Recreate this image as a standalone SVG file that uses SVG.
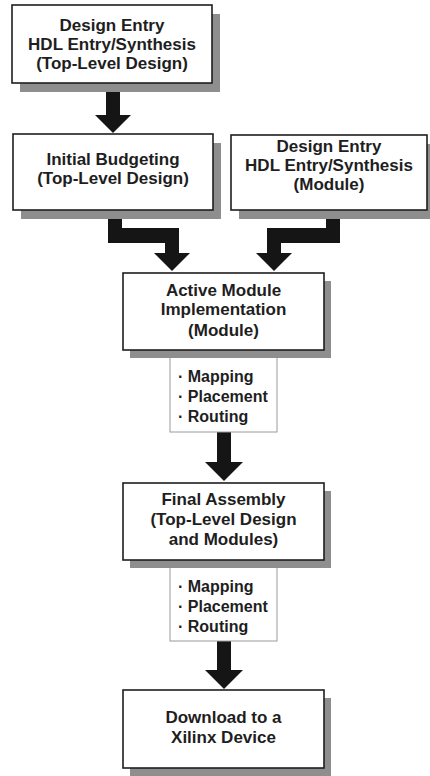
<svg xmlns="http://www.w3.org/2000/svg" width="430" height="776" viewBox="0 0 430 776">
  <style>
    .shadow { fill: #8e8e8e; }
    .box { fill: #ffffff; stroke: #1e1e1e; stroke-width: 1.6; }
    .sub { fill: #ffffff; stroke: #9a9a9a; stroke-width: 1; }
    .arrow { fill: #151515; }
    .t { font-family: "Liberation Sans", Arial, sans-serif; font-weight: bold; font-size: 17px; fill: #1e1e1e; text-anchor: middle; }
    .b { font-family: "Liberation Sans", Arial, sans-serif; font-weight: bold; font-size: 16px; fill: #1e1e1e; }
  </style>
  <rect width="430" height="776" fill="#ffffff"/>

  <!-- connectors, drawn first so their stubs tuck under the boxes -->
  <g id="connectors">
    <rect class="arrow" x="106" y="83" width="14" height="33"/>
    <polygon class="arrow" points="95,115 131,115 113,133"/>
    <polygon class="arrow" points="108,205 122,205 122,228 179,228 179,253 190,253 172,271 154,253 165,253 165,243 108,243"/>
    <polygon class="arrow" points="326,205 340,205 340,243 281,243 281,253 292,253 274,271 256,253 267,253 267,228 326,228"/>
    <rect class="arrow" x="217" y="430" width="14" height="33"/>
    <polygon class="arrow" points="205,462 243,462 224,481"/>
    <rect class="arrow" x="217" y="640" width="14" height="33"/>
    <polygon class="arrow" points="205,670 243,670 224,689"/>
  </g>

  <g id="design-entry-top">
    <rect class="shadow" x="20" y="14" width="200" height="78"/>
    <rect class="box" x="12" y="5" width="200" height="78"/>
    <text class="t" x="112" y="31">Design Entry</text>
    <text class="t" x="112" y="50">HDL Entry/Synthesis</text>
    <text class="t" x="112" y="69">(Top-Level Design)</text>
  </g>

  <g id="initial-budgeting">
    <rect class="shadow" x="21" y="143" width="200" height="76"/>
    <rect class="box" x="13" y="134" width="200" height="76"/>
    <text class="t" x="113" y="165">Initial Budgeting</text>
    <text class="t" x="113" y="184">(Top-Level Design)</text>
  </g>

  <g id="design-entry-module">
    <rect class="shadow" x="239" y="144" width="197" height="75"/>
    <rect class="box" x="231" y="135" width="196" height="75"/>
    <text class="t" x="329" y="152">Design Entry</text>
    <text class="t" x="329" y="171">HDL Entry/Synthesis</text>
    <text class="t" x="329" y="190">(Module)</text>
  </g>

  <g id="active-module">
    <rect class="sub" x="170" y="350" width="107" height="82"/>
    <text class="b" x="178" y="382">· Mapping</text>
    <text class="b" x="178" y="402">· Placement</text>
    <text class="b" x="178" y="422">· Routing</text>
    <rect class="shadow" x="130" y="281" width="201" height="77"/>
    <rect class="box" x="123" y="273" width="201" height="77"/>
    <text class="t" x="223.5" y="296">Active Module</text>
    <text class="t" x="223.5" y="315">Implementation</text>
    <text class="t" x="223.5" y="336">(Module)</text>
  </g>

  <g id="final-assembly">
    <rect class="sub" x="170" y="560" width="107" height="81"/>
    <text class="b" x="178" y="592">· Mapping</text>
    <text class="b" x="178" y="612">· Placement</text>
    <text class="b" x="178" y="632">· Routing</text>
    <rect class="shadow" x="130" y="491" width="201" height="77"/>
    <rect class="box" x="123" y="483" width="201" height="77"/>
    <text class="t" x="223.5" y="505">Final Assembly</text>
    <text class="t" x="223.5" y="525">(Top-Level Design</text>
    <text class="t" x="223.5" y="545">and Modules)</text>
  </g>

  <g id="download">
    <rect class="shadow" x="130" y="698" width="201" height="78"/>
    <rect class="box" x="123" y="690" width="201" height="78"/>
    <text class="t" x="223.5" y="723">Download to a</text>
    <text class="t" x="223.5" y="743">Xilinx Device</text>
  </g>
</svg>
